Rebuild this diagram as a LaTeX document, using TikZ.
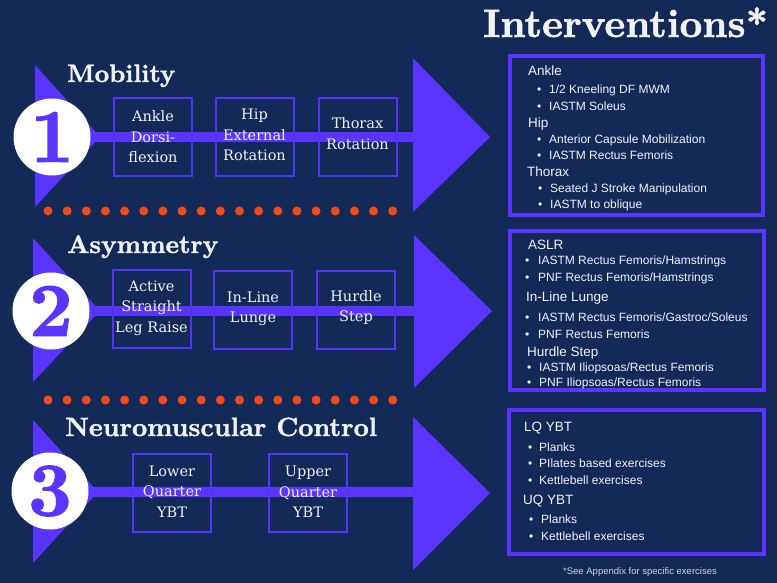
\documentclass[tikz,border=0pt]{standalone}
\usepackage{fontspec}
\usepackage{graphicx}
\newfontfamily\boxfont{DejaVu Serif}
\newfontfamily\panelfont{Liberation Sans}
\newfontfamily\titlefont{lmroman10-bold.otf}[FakeBold=1.5]
\definecolor{bg}{HTML}{132957}
\definecolor{vio}{HTML}{5A34FF}
\definecolor{boxline}{HTML}{5533F2}
\definecolor{dotc}{HTML}{F24A1A}
\definecolor{txt}{HTML}{F2F2F5}
\tikzset{
  barfill/.style={fill=vio},
  numcircle/.style={circle, fill=white, minimum size=77pt, inner sep=0pt, text=vio,
    font=\titlefont\fontsize{76}{76}\selectfont},
  stepbox/.style={draw=boxline, line width=2pt, minimum width=78pt, minimum height=78pt, inner sep=0pt},
  boxlabel/.style={align=center, text=txt, inner sep=0pt, font=\boxfont\fontsize{14.5}{20.5}\selectfont},
  sectitle/.style={anchor=base west, text=txt, inner sep=0pt, font=\titlefont\fontsize{29}{29}\selectfont},
  panelbox/.style={draw=vio, line width=4pt, fill=bg},
  phead/.style={anchor=base west, inner sep=0pt, text=txt, font=\panelfont\fontsize{13.5}{14}\selectfont},
  pitem/.style={anchor=base west, inner sep=0pt, text=txt, font=\panelfont\fontsize{12}{13}\selectfont},
  pbullet/.style={anchor=base west, inner sep=0pt, text=txt, font=\panelfont\fontsize{12}{13}\selectfont},
  orangedot/.style={circle, fill=dotc, minimum size=9pt, inner sep=0pt},
}
\begin{document}
\begin{tikzpicture}[x=1pt,y=-1pt]
\useasboundingbox (0,0) rectangle (777,583);
\fill[bg] (0,0) rectangle (777,583);

% Title
\node[anchor=base west, inner sep=0pt, text=txt, font=\titlefont\fontsize{42}{42}\selectfont] (ttl) at (483,37) {\resizebox{285pt}{!}{Interventions*}};

% ---------- Row 1 ----------
\fill[barfill] (35,65) -- (35,207) -- (100,137) -- cycle;
\fill[barfill] (62,132) rectangle (416,142);
\fill[barfill] (413,58) -- (413,212) -- (490,137) -- cycle;
\node[numcircle] (c1) at (52,137) {1};
\node[sectitle] (t1) at (67,82) {\resizebox{108pt}{!}{Mobility}};
\node[stepbox] (b11) at (153,137) {};
\node[stepbox] (b12) at (254.5,137) {};
\node[stepbox] (b13) at (357.5,137) {};
\node[boxlabel] (l11) at (153,137) {Ankle\\Dorsi-\\flexion};
\node[boxlabel] (l12) at (254.5,135) {Hip\\External\\Rotation};
\node[boxlabel] (l13) at (357.5,133.5) {Thorax\\Rotation};
\foreach \i in {0,...,18} \node[orangedot] (da\i) at ({48+19.15*\i},211) {};

% ---------- Row 2 ----------
\fill[barfill] (33,238) -- (33,382) -- (100,311) -- cycle;
\fill[barfill] (62,306) rectangle (417,316);
\fill[barfill] (414,235) -- (414,388) -- (492,311) -- cycle;
\node[numcircle] (c2) at (51,311) {2};
\node[sectitle] (t2) at (67,253) {\resizebox{151pt}{!}{Asymmetry}};
\node[stepbox] (b21) at (151.5,308.5) {};
\node[stepbox] (b22) at (253,310) {};
\node[stepbox] (b23) at (356,310) {};
\node[boxlabel] (l21) at (151.5,308) {Active\\Straight\\Leg Raise};
\node[boxlabel] (l22) at (253,309) {In-Line\\Lunge};
\node[boxlabel] (l23) at (356,307.5) {Hurdle\\Step};
\foreach \i in {0,...,18} \node[orangedot] (db\i) at ({48+19.15*\i},400) {};

% ---------- Row 3 ----------
\fill[barfill] (33,420) -- (33,563) -- (98,492) -- cycle;
\fill[barfill] (62,487) rectangle (416,497);
\fill[barfill] (413,417) -- (413,570) -- (490,493) -- cycle;
\node[numcircle] (c3) at (50,491) {3};
\node[sectitle] (t3) at (65,436) {\resizebox{312pt}{!}{Neuromuscular Control}};
\node[stepbox] (b31) at (172,492.5) {};
\node[stepbox] (b32) at (308,493) {};
\node[boxlabel] (l31) at (172,491.5) {Lower\\Quarter\\YBT};
\node[boxlabel] (l32) at (308,492) {Upper\\Quarter\\YBT};

% ---------- Panels ----------
\draw[panelbox] (510,56) rectangle (763,215);
\draw[panelbox] (510,231) rectangle (764,390);
\draw[panelbox] (509,410) rectangle (764,554);

% Panel 1
\node[phead] (p1h1) at (528,76) {Ankle};
\node[pbullet] (p1b1) at (537,93.5) {•};
\node[pitem] (p1i1) at (549,93.5) {1/2 Kneeling DF MWM};
\node[pbullet] (p1b2) at (537,110.5) {•};
\node[pitem] (p1i2) at (549,110.5) {IASTM Soleus};
\node[phead] (p1h2) at (528,128) {Hip};
\node[pbullet] (p1b3) at (537,143.5) {•};
\node[pitem] (p1i3) at (549,143.5) {Anterior Capsule Mobilization};
\node[pbullet] (p1b4) at (537,159.5) {•};
\node[pitem] (p1i4) at (549,159.5) {IASTM Rectus Femoris};
\node[phead] (p1h3) at (527,177) {Thorax};
\node[pbullet] (p1b5) at (538,192.5) {•};
\node[pitem] (p1i5) at (550,192.5) {Seated J Stroke Manipulation};
\node[pbullet] (p1b6) at (538,208.5) {•};
\node[pitem] (p1i6) at (550,208.5) {IASTM to oblique};

% Panel 2
\node[phead] (p2h1) at (528,249) {ASLR};
\node[pbullet] (p2b1) at (525,264.5) {•};
\node[pitem] (p2i1) at (538,264.5) {IASTM Rectus Femoris/Hamstrings};
\node[pbullet] (p2b2) at (525,281.5) {•};
\node[pitem] (p2i2) at (538,281.5) {PNF Rectus Femoris/Hamstrings};
\node[phead] (p2h2) at (526,301) {In-Line Lunge};
\node[pbullet] (p2b3) at (525,321.5) {•};
\node[pitem] (p2i3) at (538,321.5) {IASTM Rectus Femoris/Gastroc/Soleus};
\node[pbullet] (p2b4) at (525,338.5) {•};
\node[pitem] (p2i4) at (538,338.5) {PNF Rectus Femoris};
\node[phead] (p2h3) at (527,356) {Hurdle Step};
\node[pbullet] (p2b5) at (527,371.5) {•};
\node[pitem] (p2i5) at (539,371.5) {IASTM Iliopsoas/Rectus Femoris};
\node[pbullet] (p2b6) at (527,386.5) {•};
\node[pitem] (p2i6) at (539,386.5) {PNF Iliopsoas/Rectus Femoris};

% Panel 3
\node[phead] (p3h1) at (524,431) {LQ YBT};
\node[pbullet] (p3b1) at (528,451.5) {•};
\node[pitem] (p3i1) at (539,451.5) {Planks};
\node[pbullet] (p3b2) at (528,467.5) {•};
\node[pitem] (p3i2) at (539,467.5) {PIlates based exercises};
\node[pbullet] (p3b3) at (528,484.5) {•};
\node[pitem] (p3i3) at (539,484.5) {Kettlebell exercises};
\node[phead] (p3h2) at (523,504) {UQ YBT};
\node[pbullet] (p3b4) at (529,523.5) {•};
\node[pitem] (p3i4) at (541,523.5) {Planks};
\node[pbullet] (p3b5) at (529,540.5) {•};
\node[pitem] (p3i5) at (541,540.5) {Kettlebell exercises};

% Footer
\node[inner sep=0pt, text=txt!85!bg, font=\panelfont\fontsize{9.5}{10}\selectfont] (foot) at (640,572) {*See Appendix for specific exercises};
\end{tikzpicture}
\end{document}
